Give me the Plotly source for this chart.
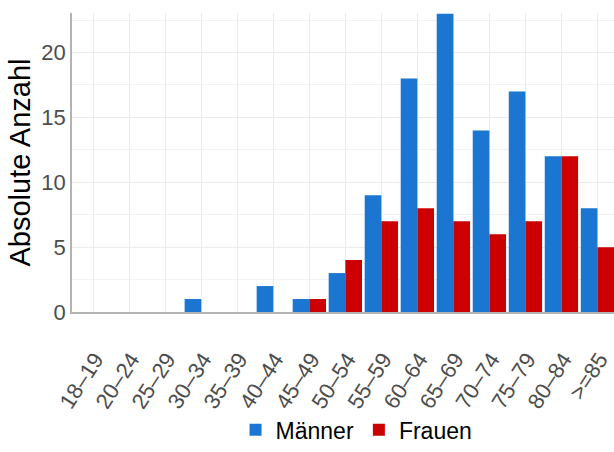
import plotly.graph_objects as go

categories = ["18–19", "20–24", "25–29", "30–34", "35–39", "40–44", "45–49", "50–54",
              "55–59", "60–64", "65–69", "70–74", "75–79", "80–84", ">=85"]
maenner = [0, 0, 0, 1, 0, 2, 1, 3, 9, 18, 23, 14, 17, 12, 8]
frauen = [0, 0, 0, 0, 0, 0, 1, 4, 7, 8, 7, 6, 7, 12, 5]

BLUE = "#1a76d0"
RED = "#cc0000"
FONT = "Liberation Sans, Arial, sans-serif"

fig = go.Figure()
fig.add_trace(go.Bar(x=categories, y=maenner, name="Männer", marker_color=BLUE,
                     marker_line_width=0))
fig.add_trace(go.Bar(x=categories, y=frauen, name="Frauen", marker_color=RED,
                     marker_line_width=0))

fig.update_layout(
    width=614, height=452,
    margin=dict(l=72, r=0, t=13, b=140, autoexpand=False),
    barmode="group", bargap=0.075, bargroupgap=0,
    plot_bgcolor="white", paper_bgcolor="white",
    font=dict(family=FONT, size=22, color="#4d4d4d"),
    showlegend=True,
    legend=dict(orientation="h", x=0.525, xanchor="center", y=-0.466, yanchor="bottom",
                font=dict(size=23, color="black"), tracegroupgap=0,
                bgcolor="rgba(0,0,0,0)"),
    xaxis=dict(
        type="category", range=[-0.59, 14.46], automargin=False,
        showgrid=True, gridcolor="#ebebeb", gridwidth=1,
        showline=True, linecolor="#b3b3b3", linewidth=1.5,
        ticks="", tickangle=-57, tickfont=dict(size=22, color="#4d4d4d"),
        ticklabelstandoff=24, ticklabelshift=2,
        zeroline=False,
    ),
    yaxis=dict(
        range=[0, 23.05], tick0=0, dtick=5, automargin=False,
        showgrid=True, gridcolor="#ebebeb", gridwidth=1,
        minor=dict(dtick=2.5, showgrid=True, gridcolor="#f2f2f2", gridwidth=1),
        showline=True, linecolor="#b3b3b3", linewidth=1.5,
        ticks="", tickfont=dict(size=22, color="#4d4d4d"),
        zeroline=False,
        title=dict(text="Absolute Anzahl", font=dict(size=29, color="black"), standoff=2),
    ),
)

fig.write_html("out.html", config={"displayModeBar": False},
               post_script="document.body.style.margin='0';document.body.style.overflow='hidden';")
